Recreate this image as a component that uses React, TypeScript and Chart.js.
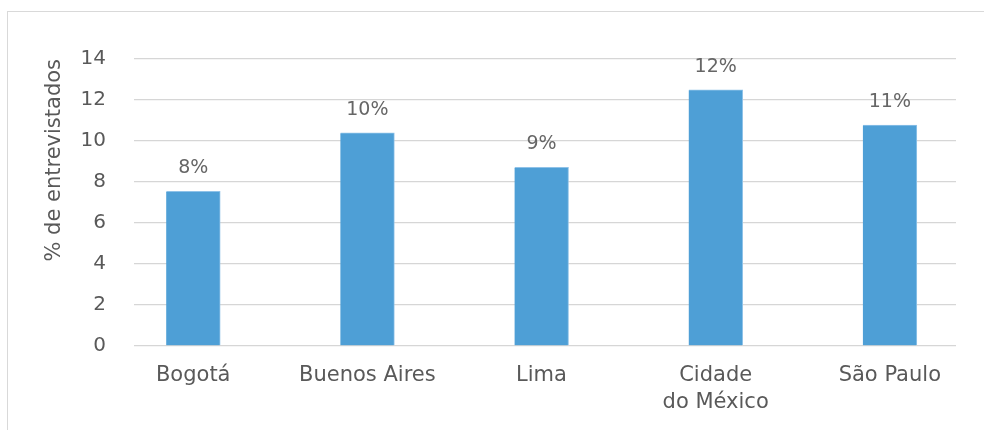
import React, { useEffect, useRef } from "react";
import { Chart, registerables } from "chart.js";

Chart.register(...registerables);

const CATEGORIES: (string | string[])[] = ["Bogotá", "Buenos Aires", "Lima", ["Cidade", "do México"], "São Paulo"];
const VALUES = [7.55, 10.4, 8.72, 12.5, 10.78];
const VALUE_LABELS = ["8%", "10%", "9%", "12%", "11%"];
const Y_TICKS = [0, 2, 4, 6, 8, 10, 12, 14];
const Y_TITLE = "% de entrevistados";

const FONT = "'DejaVu Sans', sans-serif";
const TEXT = "#595959";

const valueLabelPlugin = {
  id: "valueLabels",
  afterDatasetsDraw(chart: any) {
    const ctx = chart.ctx;
    const meta = chart.getDatasetMeta(0);
    ctx.save();
    ctx.font = `normal 19px ${FONT}`;
    ctx.fillStyle = "#666666";
    ctx.textAlign = "center";
    ctx.textBaseline = "alphabetic";
    meta.data.forEach((bar: any, i: number) => {
      ctx.fillText(VALUE_LABELS[i], bar.x, bar.y - 18);
    });
    ctx.restore();
  },
};

export default function App() {
  const ref = useRef<HTMLCanvasElement | null>(null);
  useEffect(() => {
    if (!ref.current) return;
    const chart = new Chart(ref.current, {
      type: "bar",
      data: {
        datasets: [
          {
            data: VALUES.map((v, i) => ({ x: i, y: v })),
            backgroundColor: "#4e9fd6",
            borderColor: "#8fc2e8",
            borderWidth: { top: 1, right: 1, left: 0, bottom: 0 },
            barThickness: 54,
          },
        ],
      },
      options: {
        animation: false,
        responsive: false,
        maintainAspectRatio: false,
        layout: { padding: { top: 59, right: 28, bottom: 0, left: 0 } },
        plugins: { legend: { display: false }, tooltip: { enabled: false } },
        scales: {
          x: {
            type: "linear",
            offset: false,
            min: -0.34,
            max: 4.38,
            afterBuildTicks: (s: any) => {
              s.ticks = CATEGORIES.map((_, i) => ({ value: i }));
            },
            afterFit: (s: any) => {
              s.height = 84;
            },
            grid: { display: false, drawTicks: false, offset: false },
            border: { display: false },
            ticks: {
              autoSkip: false,
              maxRotation: 0,
              padding: 17,
              color: TEXT,
              font: { family: FONT, size: 21, weight: "normal", lineHeight: 1.24 },
              callback: (v: any) => CATEGORIES[v as number] as any,
            },
          },
          y: {
            min: 0,
            max: 14,
            afterBuildTicks: (s: any) => {
              s.ticks = Y_TICKS.map((v) => ({ value: v }));
            },
            afterFit: (s: any) => {
              s.width = 134;
            },
            grid: { color: "#d6d6d6", lineWidth: 1.3, drawTicks: false },
            border: { display: false },
            ticks: {
              padding: 28,
              color: TEXT,
              font: { family: FONT, size: 20, weight: "normal" },
            },
            title: {
              display: true,
              text: Y_TITLE,
              align: "end",
              color: TEXT,
              padding: { top: 42, bottom: 0 },
              font: { family: FONT, size: 21, weight: "normal" },
            },
          },
        },
      },
      plugins: [valueLabelPlugin],
    } as any);
    return () => chart.destroy();
  }, []);

  return (
    <div style={{ position: "fixed", left: 0, top: 0, width: 984, height: 430, overflow: "hidden", background: "#fff" }}>
      <div
        style={{
          position: "absolute",
          left: 7,
          top: 11,
          width: 1000,
          height: 500,
          border: "1px solid #d9d9d9",
        }}
      />
      <canvas ref={ref} width={984} height={430} style={{ position: "absolute", left: 0, top: 0 }} />
    </div>
  );
}
